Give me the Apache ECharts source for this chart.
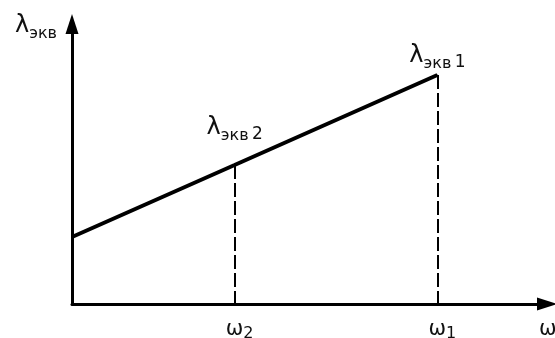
<!DOCTYPE html>
<html>
<head>
<meta charset="utf-8">
<script src="https://cdn.jsdelivr.net/npm/echarts@6/dist/echarts.min.js"></script>
<style>html,body{margin:0;padding:0;background:#fff}#c{width:555px;height:338px}</style>
</head>
<body>
<div id="c"></div>
<script>
// Data
var omega = [0, 4.45, 10];           // x positions (ω axis)
var lambdaEq = [6.7, 13.9, 22.9];     // λэкв values on the line
var omegaTicks = [4.45, 10];          // ω2, ω1
var omegaTickLabels = ['{w|ω}{n|2}', '{w|ω}{n|1}'];
var pointLabels = ['', '{l|λ}{s|экв} {n|2}', '{l|λ}{s|экв} {n|1}'];
var xMax = 13, yMax = 28;

var FONT = 'DejaVu Sans';
var lamRich = {
  l: { fontFamily: FONT, fontSize: 24, color: '#111', verticalAlign: 'top' },
  s: { fontFamily: FONT, fontSize: 16, color: '#111', verticalAlign: 'bottom', lineHeight: 28 },
  n: { fontFamily: FONT, fontSize: 17, color: '#111', verticalAlign: 'bottom', lineHeight: 28 }
};

var lineData = omega.map(function (x, i) {
  var item = { value: [x, lambdaEq[i]] };
  if (pointLabels[i]) {
    item.label = { show: true, position: 'top', distance: i === 1 ? 21 : 3,
      formatter: pointLabels[i], rich: lamRich };
  }
  return item;
});

var dropLines = omegaTicks.map(function (x) {
  var idx = omega.indexOf(x);
  return [{ coord: [x, lambdaEq[idx]] }, { coord: [x, 0] }];
});

var chart = echarts.init(document.getElementById('c'), null, { renderer: 'canvas' });
chart.setOption({
  animation: false,
  backgroundColor: '#fff',
  grid: { left: 72, right: 8, top: 24, bottom: 34, containLabel: false, outerBoundsMode: 'none' },
  xAxis: {
    type: 'value', min: 0, max: xMax,
    splitLine: { show: false },
    axisTick: { show: false },
    axisLine: { onZero: false, lineStyle: { color: '#000', width: 3 },
      symbol: ['none', 'triangle'], symbolSize: [13, 20] },
    axisLabel: {
      customValues: omegaTicks,
      margin: 15,
      padding: [0, 0, 0, 10],
      formatter: function (v) { return omegaTickLabels[omegaTicks.indexOf(v)]; },
      rich: {
        w: { fontFamily: FONT, fontSize: 21, color: '#111', verticalAlign: 'top' },
        n: { fontFamily: FONT, fontSize: 16, color: '#111', verticalAlign: 'bottom', lineHeight: 23 }
      }
    },
    name: 'ω', nameLocation: 'end', nameGap: -8,
    nameTextStyle: { fontFamily: FONT, fontSize: 21, color: '#111', align: 'left',
      verticalAlign: 'top', lineHeight: 21, padding: [15, 0, 0, 0] }
  },
  yAxis: {
    type: 'value', min: 0, max: yMax,
    splitLine: { show: false },
    axisTick: { show: false },
    axisLabel: { show: false },
    axisLine: { onZero: false, lineStyle: { color: '#000', width: 3 },
      symbol: ['none', 'triangle'], symbolSize: [13, 20] },
    name: '{l|λ}{s|экв}', nameLocation: 'end', nameGap: 10,
    nameTextStyle: { align: 'right', verticalAlign: 'top', padding: [0, 15, 0, 0], rich: lamRich }
  },
  series: [{
    type: 'line',
    data: lineData,
    symbol: 'circle', symbolSize: 1, showSymbol: true,
    itemStyle: { color: '#000' },
    lineStyle: { color: '#000', width: 4, cap: 'butt' },
    label: { show: false },
    markLine: {
      silent: true, symbol: 'none', animation: false,
      label: { show: false },
      lineStyle: { color: '#000', width: 2, type: [14, 4] },
      data: dropLines
    }
  }]
});
</script>
</body>
</html>
